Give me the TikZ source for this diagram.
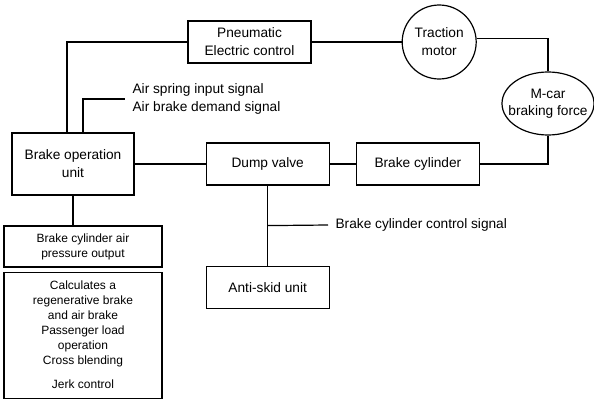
\documentclass[tikz,border=0pt]{standalone}
\usepackage{fontspec}
\setmainfont{Liberation Sans}
\usetikzlibrary{positioning,shapes.geometric}

\begin{document}
\begin{tikzpicture}[
    x = 1pt, y = -1pt, % one unit per pixel, y going down
    node distance = 26pt, % distance between nodes
    line width = 1.2pt % line style
    ]

    \tikzset{
    block/.style = {
    draw = black,
    align = center,
    inner sep = 0pt,
    minimum width = 123pt,
    minimum height = 42pt,
    font = \fontsize{13.7}{18}\selectfont
    },
    smallblock/.style = {
    block,
    minimum width = 158pt,
    font = \fontsize{12}{15}\selectfont
    },
    signal/.style = {
    anchor = west,
    align = left,
    inner xsep = 7pt,
    font = \fontsize{13.7}{18}\selectfont
    }
    }
    \useasboundingbox (0,0) rectangle (594,399);

    \node[block, minimum width = 122pt, minimum height = 62pt] (bou) at (73,164) {Brake operation\\unit};
    \node[block] (dump) [right=71pt of bou] {Dump valve};
    \node[block] (cyl) [right=of dump] {Brake cylinder};
    \node[block] (skid) [below=80pt of dump] {Anti-skid unit};
    \node[block] (pec) at (249.5,42) {Pneumatic\\Electric control};
    \node[block, circle, minimum size = 74pt] (motor) [right=90pt of pec] {Traction\\motor};
    \node[block, ellipse, minimum width = 92pt, minimum height = 63pt,
        label = {[align=center, font=\fontsize{13.7}{17}\selectfont]center:M-car\\braking force}] (mcar) at (548,103.5) {};
    \node[smallblock, minimum height = 41pt] (bcapo) at (83,246.5) {Brake cylinder air\\pressure output};
    \node[smallblock, minimum height = 126pt] (calc) [below=4pt of bcapo]
        {Calculates a\\regenerative brake\\and air brake\\Passenger load\\operation\\Cross blending\\[9pt]Jerk control};

    \node[signal] (airsig) at (125,99) {Air spring input signal\\Air brake demand signal};
    \node[signal] (cylsig) at (328,225) {Brake cylinder control signal};
    \path (dump.south) ++(0,40) coordinate (tap);

    \draw (bou) -- (dump);
    \draw (dump) -- (cyl);
    \draw (cyl.east) -| (mcar.south);
    \draw (motor.5) -| (mcar.north);
    \draw (pec) -- (motor);
    \draw (pec.west) -| ([xshift=-6pt]bou.north);
    \draw ([xshift=10pt]bou.north) |- (airsig.west);
    \draw (dump) -- (skid);
    \draw (tap) -- (cylsig.west);
    \draw (bou.south) -- (bou.south |- bcapo.north);
\end{tikzpicture}
\end{document}
